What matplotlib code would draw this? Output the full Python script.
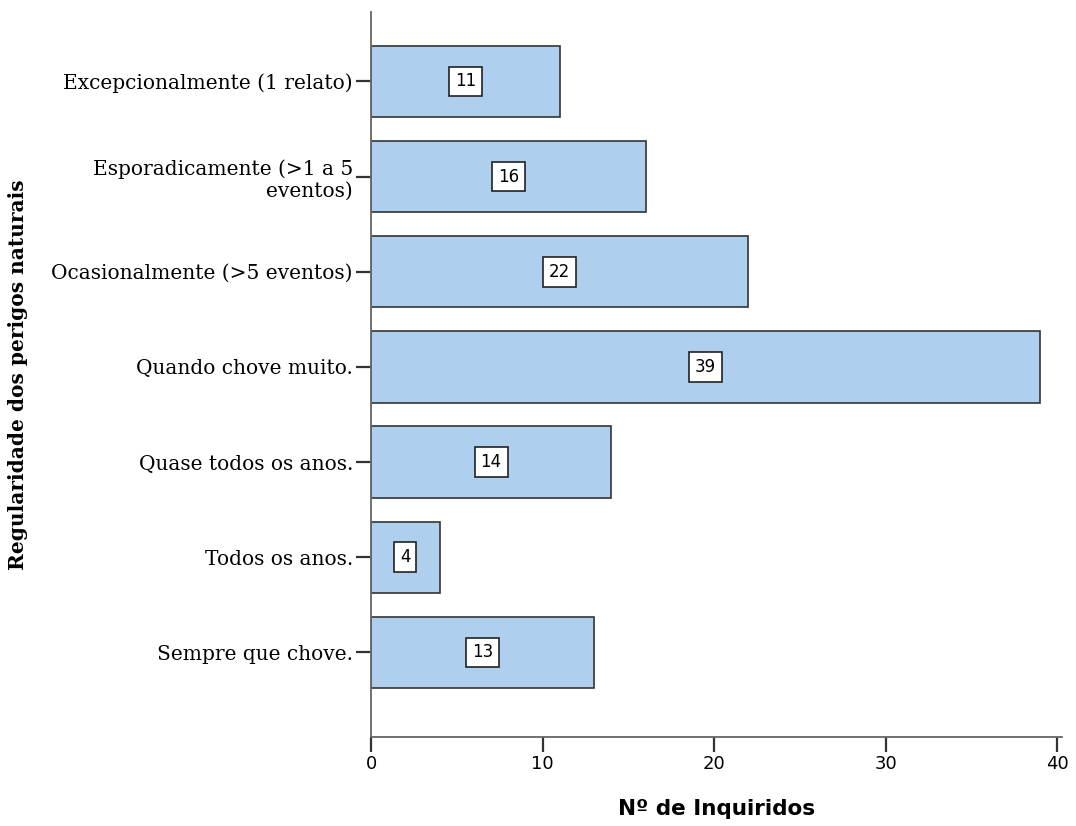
import matplotlib
matplotlib.use("Agg")
import matplotlib.pyplot as plt

# dados
categorias = [
    "Excepcionalmente (1 relato)",
    "Esporadicamente (>1 a 5\neventos)",
    "Ocasionalmente (>5 eventos)",
    "Quando chove muito.",
    "Quase todos os anos.",
    "Todos os anos.",
    "Sempre que chove.",
]
inquiridos = [11, 16, 22, 39, 14, 4, 13]
ticks_x = [0, 10, 20, 30, 40]

fig = plt.figure(figsize=(10.76, 8.26), dpi=100)
ax = fig.add_axes([0.3448, 0.1077, 0.642, 0.8778])

pos = list(range(len(categorias)))
ax.barh(pos, inquiridos, height=0.75, color="#AECFEE", edgecolor="#333333", linewidth=1.2)

# rótulos dos valores
for p, v in zip(pos, inquiridos):
    ax.text(v / 2, p, str(v), ha="center", va="center", fontsize=12,
            family="DejaVu Sans",
            bbox=dict(boxstyle="square,pad=0.35", facecolor="white", edgecolor="#222222", linewidth=1.2))

ax.set_ylim(6.89, -0.73)
ax.set_xlim(0, 40.26)
ax.set_yticks(pos)
ax.set_yticklabels(categorias, family="DejaVu Serif", fontsize=14.5)
ax.set_xticks(ticks_x)
ax.set_xticklabels([str(t) for t in ticks_x], family="DejaVu Sans", fontsize=13)

for s in ["top", "right"]:
    ax.spines[s].set_visible(False)
for s in ["left", "bottom"]:
    ax.spines[s].set_color("#666666")
    ax.spines[s].set_linewidth(1.3)
ax.tick_params(axis="both", length=11, width=1.6, color="#333333", pad=2)

ax.set_xlabel("Nº de Inquiridos", family="DejaVu Sans", fontsize=15.5, fontweight="bold")
ax.xaxis.set_label_coords(0.5, -0.086)
ax.set_ylabel("Regularidade dos perigos naturais", family="DejaVu Serif", fontsize=14.5, fontweight="bold")
ax.yaxis.set_label_coords(-0.497, 0.5)

fig.savefig("out.png", dpi=100)
